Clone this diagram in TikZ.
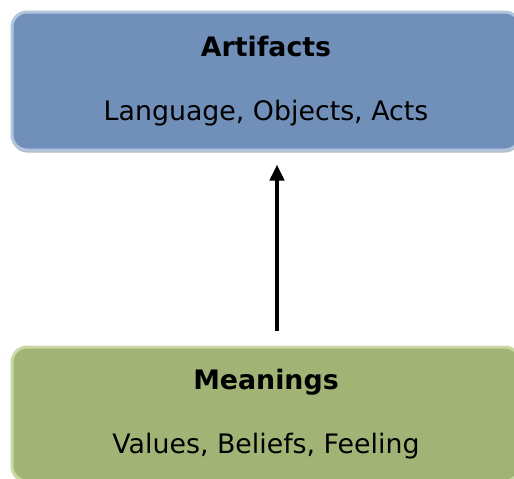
\documentclass[tikz,border=0pt]{standalone}
\usepackage{fontspec}
\setmainfont{DejaVu Sans}
\usetikzlibrary{arrows.meta,shadows}
\definecolor{artfill}{RGB}{112,144,186}
\definecolor{artline}{RGB}{178,197,222}
\definecolor{meanfill}{RGB}{161,180,118}
\definecolor{meanline}{RGB}{202,217,164}
\tikzset{
  culturebox/.style={rounded corners=15pt, line width=3pt, minimum width=508pt,
    align=center, font=\fontsize{26.8}{32}\selectfont, inner sep=0pt,
    drop shadow={shadow xshift=0pt, shadow yshift=-2.5pt, fill=black!45, opacity=.6}}
}
\begin{document}
\begin{tikzpicture}[x=1pt,y=-1pt]
\useasboundingbox (0,0) rectangle (514,479);
\node[culturebox, draw=artline, fill=artfill, minimum height=138pt] (artifacts) at (266,81)
  {\textbf{Artifacts}\\[32pt]Language, Objects, Acts};
\node[culturebox, draw=meanline, fill=meanfill, minimum height=134pt] (meanings) at (266,414)
  {\textbf{Meanings}\\[32pt]Values, Beliefs, Feeling};
\draw [line width=4pt, -{Triangle[width=14pt,length=16pt]}, shorten >=13pt, shorten <=15pt]
  (meanings.north -| 277,0) -- (artifacts.south -| 277,0);
\end{tikzpicture}
\end{document}
